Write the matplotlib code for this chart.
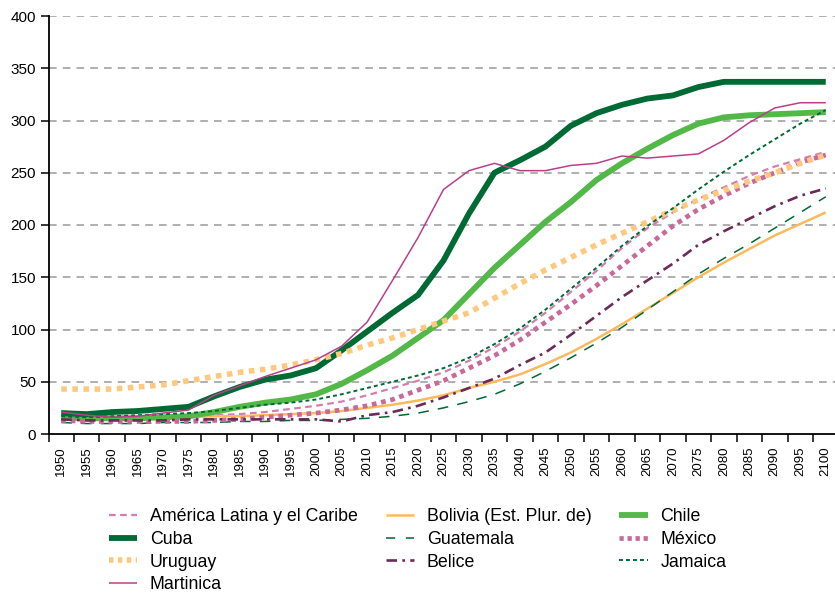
import numpy as np
import matplotlib
matplotlib.use("Agg")
import matplotlib.pyplot as plt
from matplotlib.lines import Line2D

plt.rcParams['font.family'] = ['Liberation Sans', 'DejaVu Sans']

years = list(range(1950, 2101, 5))

alc = [14, 14, 14, 15, 16, 17, 18, 19, 21, 24, 27, 31, 37, 44, 51, 59, 70, 83, 98, 116,
       136, 156, 178, 197, 212, 225, 236, 247, 256, 263, 270]
bolivia = [22, 18, 16, 16, 16, 16, 17, 17, 18, 19, 20, 22, 25, 28, 32, 37, 44, 50, 57, 67,
           78, 91, 105, 120, 135, 150, 164, 177, 190, 201, 212]
chile = [16, 15, 15, 15, 16, 17, 21, 26, 30, 33, 38, 48, 61, 75, 92, 109, 134, 159, 181, 203,
         222, 243, 259, 273, 286, 297, 303, 305, 306, 307, 308]
cuba = [20, 19, 21, 22, 24, 26, 36, 45, 52, 56, 63, 80, 98, 116, 133, 166, 211, 250, 262, 275,
        295, 307, 315, 321, 324, 332, 337, 337, 337, 337, 337]
guatemala = [11, 10, 10, 10, 11, 11, 11, 12, 12, 13, 13, 14, 15, 17, 20, 25, 31, 38, 48, 60,
             73, 87, 102, 119, 136, 153, 168, 182, 197, 212, 227]
mexico = [13, 12, 12, 12, 12, 12, 13, 14, 16, 18, 20, 23, 27, 33, 42, 51, 63, 75, 90, 107,
          124, 142, 161, 180, 199, 215, 228, 240, 250, 260, 267]
uruguay = [43, 43, 43, 45, 47, 51, 55, 59, 62, 66, 71, 77, 85, 92, 100, 108, 116, 130, 144, 157,
           169, 181, 192, 203, 214, 224, 233, 242, 250, 259, 267]
belice = [14, 13, 13, 13, 13, 14, 14, 14, 14, 14, 14, 12, 18, 21, 27, 35, 44, 53, 66, 78,
          95, 113, 131, 147, 163, 181, 194, 206, 218, 228, 235]
jamaica = [17, 16, 17, 18, 19, 20, 22, 25, 28, 30, 33, 38, 44, 50, 56, 63, 73, 86, 101, 119,
           139, 159, 180, 199, 216, 234, 251, 267, 282, 297, 310]
martinica = [21, 18, 16, 17, 20, 23, 37, 46, 55, 63, 71, 84, 107, 147, 188, 234, 252, 259, 252, 252,
             257, 259, 266, 264, 266, 268, 281, 298, 312, 317, 317]

# name, data, color, linewidth, dashes in plot, dashes in legend (None = solid)
series = [
    ("América Latina y el Caribe", alc, "#d27fb0", 1.6, (3, 2), (3, 2)),
    ("Bolivia (Est. Plur. de)", bolivia, "#fdba5c", 1.8, None, None),
    ("Chile", chile, "#52b848", 4.2, None, None),
    ("Cuba", cuba, "#006a35", 4.2, None, None),
    ("Guatemala", guatemala, "#006a35", 1.1, (7, 6), (6, 7)),
    ("México", mexico, "#c8689b", 3.4, (1, 1), (0.9, 0.8)),
    ("Uruguay", uruguay, "#fec97c", 4.0, (1, 1), (0.8, 0.8)),
    ("Belice", belice, "#6b2a57", 1.9, (4, 2, 1, 2), (4, 2, 1, 2)),
    ("Jamaica", jamaica, "#006a35", 1.4, (2, 1.6), (2, 1.6)),
    ("Martinica", martinica, "#b8408b", 1.1, None, None),
]

fig = plt.figure(figsize=(8.35, 5.96), dpi=100)
ax = fig.add_axes([48.5 / 835, 162 / 596, 790 / 835, 418 / 596])

x = np.arange(len(years))
styles = {}
for name, data, color, lw, dashes, leg_dashes in series:
    if dashes is None:
        ax.plot(x, data, color=color, lw=lw, solid_capstyle='butt', solid_joinstyle='round')
    else:
        ax.plot(x, data, color=color, lw=lw, dashes=dashes, dash_capstyle='butt')
    styles[name] = (color, lw, leg_dashes)

ax.set_xlim(-0.5, len(years) - 0.5)
ax.set_ylim(0, 400)
ax.set_yticks(np.arange(0, 401, 50))
ax.set_xticks(x)
ax.set_xticklabels([str(y) for y in years], rotation=90)
ax.set_xticks(np.arange(-0.5, len(years), 1), minor=True)
ax.tick_params(axis='x', which='major', length=0, pad=9, labelsize=9.5)
ax.tick_params(axis='x', which='minor', length=6, width=1.1, color='black')
ax.tick_params(axis='y', length=6, width=1.1, pad=3, labelsize=11)

for yv in range(50, 401, 50):
    ax.axhline(yv, color='#9a9a9a', lw=1.1, dashes=(5, 4), zorder=0)

for s in ['top', 'right']:
    ax.spines[s].set_visible(False)
for s in ['left', 'bottom']:
    ax.spines[s].set_linewidth(1.3)

order = ["América Latina y el Caribe", "Cuba", "Uruguay", "Martinica",
         "Bolivia (Est. Plur. de)", "Guatemala", "Belice",
         "Chile", "México", "Jamaica"]
leg_handles = []
for name in order:
    color, lw, d = styles[name]
    if d is None:
        leg_handles.append(Line2D([], [], color=color, lw=lw, solid_capstyle='butt'))
    else:
        leg_handles.append(Line2D([], [], color=color, lw=lw, dashes=d, dash_capstyle='butt'))
fig.legend(leg_handles, order, ncol=3, loc='upper left', bbox_to_anchor=(100 / 835, 1 - 499 / 596),
           frameon=False, fontsize=12.8, handlelength=1.6, handletextpad=0.71,
           columnspacing=1.57, labelspacing=0.33, borderpad=0)

fig.savefig("out.png", dpi=100)
